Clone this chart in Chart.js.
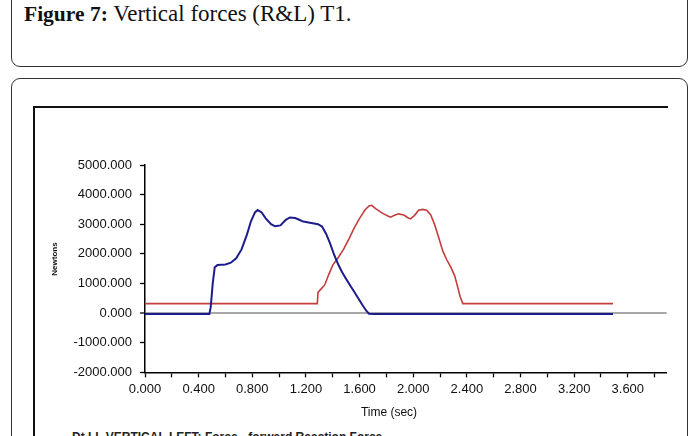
<!DOCTYPE html>
<html>
<head>
<meta charset="utf-8">
<script src="https://cdn.jsdelivr.net/npm/chart.js@4.4.0/dist/chart.umd.min.js"></script>
<style>
html,body{margin:0;padding:0;background:#fff;}
body{width:690px;height:436px;position:relative;overflow:hidden;}
.box1{position:absolute;left:11px;top:-20px;width:677px;height:87px;box-sizing:border-box;border:1.5px solid #333;border-radius:9px;}
.cap{position:absolute;left:24px;top:2px;font-family:"Liberation Serif","Times New Roman",serif;font-size:23px;line-height:1;color:#111;white-space:nowrap;}
.cap b{font-size:21.5px;}
.box2{position:absolute;left:11px;top:78px;width:677px;height:420px;box-sizing:border-box;border:1.5px solid #333;border-radius:9px;}
.frameTop{position:absolute;left:33px;top:106px;width:635px;height:1.5px;background:#111;}
.frameLeft{position:absolute;left:33px;top:106px;width:1.5px;height:340px;background:#111;}
.foot{position:absolute;left:72px;top:431px;font:bold 12px "Liberation Sans",Arial,sans-serif;color:#222;white-space:nowrap;line-height:1;}
canvas{position:absolute;left:0;top:0;}
</style>
</head>
<body>
<div class="box1"></div>
<div class="cap"><b>Figure 7:</b> Vertical forces (R&amp;L) T1.</div>
<div class="box2"></div>
<div class="frameTop"></div>
<div class="frameLeft"></div>
<div class="foot">Dt.LL VERTICAL LEFT: Force - forward Reaction Force</div>
<canvas id="c" width="690" height="436"></canvas>
<script>
// ---- data ----
const leftTime  = [0, 0.48, 0.49, 0.505, 0.52, 0.54, 0.60, 0.64, 0.68, 0.72, 0.76, 0.79, 0.82, 0.84, 0.87, 0.90, 0.94, 0.97, 1.01, 1.05, 1.08, 1.12, 1.15, 1.18, 1.24, 1.29, 1.32, 1.35, 1.38, 1.41, 1.44, 1.47, 1.50, 1.53, 1.56, 1.59, 1.62, 1.65, 1.67, 1.70, 2.14, 3.49];
const leftForce = [-30, -30, 200, 1000, 1550, 1620, 1640, 1700, 1850, 2150, 2650, 3100, 3400, 3480, 3400, 3200, 3000, 2930, 2960, 3150, 3230, 3210, 3150, 3090, 3040, 3000, 2920, 2680, 2350, 1970, 1650, 1380, 1150, 930, 720, 500, 280, 80, -20, -30, -30, -30];
const rightTime  = [0, 1.285, 1.29, 1.31, 1.34, 1.37, 1.40, 1.44, 1.48, 1.52, 1.56, 1.60, 1.64, 1.67, 1.69, 1.72, 1.76, 1.80, 1.83, 1.86, 1.89, 1.93, 1.96, 1.98, 2.01, 2.04, 2.07, 2.10, 2.13, 2.16, 2.19, 2.22, 2.25, 2.28, 2.31, 2.33, 2.35, 2.37, 3.49];
const rightForce = [320, 320, 700, 800, 950, 1300, 1620, 1870, 2150, 2500, 2880, 3200, 3480, 3620, 3640, 3530, 3400, 3300, 3240, 3300, 3350, 3310, 3220, 3180, 3300, 3470, 3500, 3470, 3320, 2980, 2550, 2100, 1800, 1550, 1250, 900, 550, 320, 320];
const xTickValues = [0, 0.2, 0.4, 0.6, 0.8, 1.0, 1.2, 1.4, 1.6, 1.8, 2.0, 2.2, 2.4, 2.6, 2.8, 3.0, 3.2, 3.4, 3.6, 3.8];
const yTickValues = [-2000, -1000, 0, 1000, 2000, 3000, 4000, 5000];
const xTitle = 'Time (sec)';
const yTitle = 'Newtons';

const toPts = (ts, fs) => ts.map((t, i) => ({x: t, y: fs[i]}));

const axisTitles = {
  id: 'axisTitles',
  afterDraw(chart) {
    const ctx = chart.ctx;
    ctx.save();
    ctx.fillStyle = '#111';
    ctx.textAlign = 'center';
    ctx.textBaseline = 'middle';
    ctx.font = '12px "Liberation Sans", Arial, sans-serif';
    ctx.fillText(xTitle, 389, 413);
    ctx.translate(55, 259);
    ctx.rotate(-Math.PI / 2);
    ctx.font = 'bold 8px "Liberation Sans", Arial, sans-serif';
    ctx.fillText(yTitle, 0, 0);
    ctx.restore();
  }
};

Chart.defaults.font.family = '"Liberation Sans", Arial, sans-serif';

new Chart(document.getElementById('c'), {
  type: 'line',
  data: {
    datasets: [
      {label: 'Right', data: toPts(rightTime, rightForce), borderColor: '#c23e3c', borderWidth: 1.6, pointRadius: 0, tension: 0, order: 2},
      {label: 'Left', data: toPts(leftTime, leftForce), borderColor: '#1c1c8c', borderWidth: 2, pointRadius: 0, tension: 0, order: 1}
    ]
  },
  options: {
    responsive: false,
    animation: false,
    devicePixelRatio: 1,
    layout: {padding: {left: 45, right: 23.3, top: 165, bottom: 13.7}},
    plugins: {legend: {display: false}, tooltip: {enabled: false}},
    scales: {
      x: {
        type: 'linear', min: 0, max: 3.89,
        afterBuildTicks: s => { s.ticks = xTickValues.map(v => ({value: v})); },
        afterFit: s => { s.height = 50; },
        grid: {drawOnChartArea: false, drawTicks: true, tickLength: 5, tickColor: '#000', tickWidth: 1.3},
        border: {display: true, color: '#000', width: 1.5},
        ticks: {autoSkip: false, maxRotation: 0, minRotation: 0, padding: 4, color: '#111', font: {size: 13},
          callback: v => (Math.round(v * 5) % 2 === 0 ? v.toFixed(3) : '')}
      },
      y: {
        min: -2000, max: 5000,
        afterBuildTicks: s => { s.ticks = yTickValues.map(v => ({value: v})); },
        afterFit: s => { s.width = 100; },
        grid: {drawOnChartArea: true, drawTicks: true, tickLength: 5, tickColor: '#000', tickWidth: 1.3,
          color: c => (c.tick && c.tick.value === 0 ? '#a8a8a8' : 'rgba(0,0,0,0)'),
          lineWidth: c => (c.tick && c.tick.value === 0 ? 2 : 1)},
        border: {display: true, color: '#000', width: 1.5},
        ticks: {padding: 8, color: '#111', font: {size: 13}, callback: v => v.toFixed(3)}
      }
    }
  },
  plugins: [axisTitles]
});
</script>
</body>
</html>
